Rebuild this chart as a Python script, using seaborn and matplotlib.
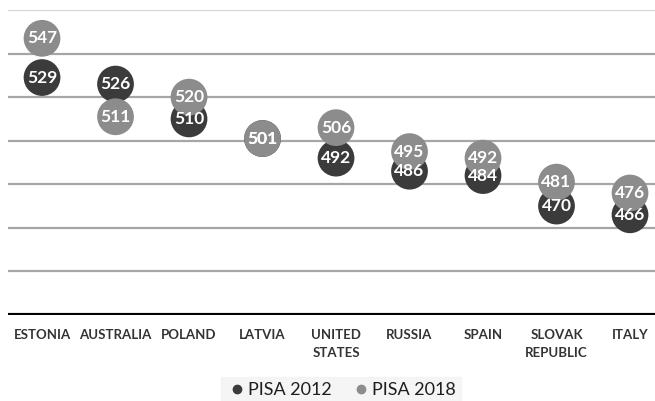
import matplotlib
matplotlib.use("Agg")
import matplotlib.pyplot as plt
import seaborn as sns
import pandas as pd
from matplotlib.lines import Line2D

countries = ["ESTONIA", "AUSTRALIA", "POLAND", "LATVIA", "UNITED\nSTATES",
             "RUSSIA", "SPAIN", "SLOVAK\nREPUBLIC", "ITALY"]
pisa2012 = [529, 526, 510, 501, 492, 486, 484, 470, 466]
pisa2018 = [547, 511, 520, 501, 506, 495, 492, 481, 476]
series = ["PISA 2012", "PISA 2018"]
colors = {"PISA 2012": "#3b3b3b", "PISA 2018": "#8c8c8c"}
gridvals = [440, 460, 480, 500, 520, 540, 560]

sns.set_theme(style="white")
plt.rcParams['font.family'] = ['Lato', 'DejaVu Sans']

df = pd.DataFrame({
    "country": countries * 2,
    "pos": list(range(len(countries))) * 2,
    "score": pisa2012 + pisa2018,
    "series": [series[0]] * len(countries) + [series[1]] * len(countries),
})

W, H = 655, 401
fig = plt.figure(figsize=(W / 100, H / 100), dpi=100)
ax = fig.add_axes([8 / W, (H - 315) / H, (655 - 8) / W, (315 - 10) / H])

for v in gridvals:
    ax.axhline(v, color="#d4d4d4" if v == 560 else "#a6a6a6", lw=1.6, zorder=0)
ax.axhline(420, color="black", lw=3, zorder=1)

sns.scatterplot(data=df, x="pos", y="score", hue="series", palette=colors,
                hue_order=series, s=700, linewidth=0, ax=ax, legend=False, zorder=3)

for s_name, vals in [(series[0], pisa2012), (series[1], pisa2018)]:
    for i, v in enumerate(vals):
        ax.text(i, v, str(v), ha="center", va="center", color="white",
                fontsize=12.5, fontweight="bold", zorder=4)

ax.set_xlim(-0.463, 8.34)
ax.set_ylim(420, 560)
ax.set_xticks(range(len(countries)))
ax.set_xticklabels(countries, fontsize=9.5, fontweight="bold", color="#333333",
                   linespacing=1.6)
ax.tick_params(axis="x", length=0, pad=10)
ax.set_yticks([])
ax.set_xlabel("")
ax.set_ylabel("")
for sp in ax.spines.values():
    sp.set_visible(False)

# legend
handles = [Line2D([], [], marker="o", ls="", color=colors[s], markersize=6) for s in series]
leg = fig.legend(handles, series, loc="center", bbox_to_anchor=(341 / W, (H - 390) / H),
                 ncol=2, frameon=True, fontsize=13, handletextpad=0.0, columnspacing=1.0,
                 handlelength=1.2, borderpad=0.3, fancybox=False)
leg.get_frame().set_facecolor("#f3f3f3")
leg.get_frame().set_edgecolor("#f3f3f3")
for t in leg.get_texts():
    t.set_color("#1e1e1e")

fig.savefig("out.png", dpi=100)
